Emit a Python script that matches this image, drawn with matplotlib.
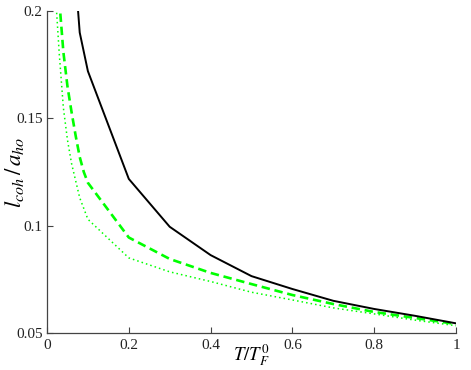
import matplotlib
matplotlib.use("Agg")
import matplotlib.pyplot as plt

plt.rcParams['font.family'] = ['Liberation Serif', 'DejaVu Serif']
plt.rcParams['mathtext.fontset'] = 'stix'

# solid black curve
t_solid = [0.07, 0.08, 0.1, 0.2, 0.3, 0.4, 0.5, 0.6, 0.7, 0.8, 0.9, 1.0]
l_solid = [0.215, 0.19, 0.172, 0.1218, 0.0995, 0.0863, 0.0765, 0.0705, 0.065, 0.0612, 0.058, 0.0545]

# dashed green curve
t_dash = [0.03, 0.04, 0.05, 0.06, 0.07, 0.08, 0.09, 0.1, 0.2, 0.3, 0.4, 0.5, 0.6, 0.7, 0.8, 0.9, 1.0]
l_dash = [0.205, 0.181, 0.165, 0.153, 0.142, 0.132, 0.125, 0.12, 0.0945, 0.0845, 0.078, 0.0728, 0.0677, 0.0635, 0.0598, 0.057, 0.0542]

# dotted green curve
t_dot = [0.02, 0.03, 0.04, 0.05, 0.06, 0.07, 0.08, 0.09, 0.1, 0.2, 0.3, 0.4, 0.5, 0.6, 0.7, 0.8, 0.9, 1.0]
l_dot = [0.21, 0.18, 0.155, 0.14, 0.129, 0.121, 0.113, 0.108, 0.103, 0.085, 0.0785, 0.074, 0.069, 0.0654, 0.0617, 0.0589, 0.056, 0.0534]

xticks = [0, 0.2, 0.4, 0.6, 0.8, 1]
xtick_labels = ["0", "0.2", "0.4", "0.6", "0.8", "1"]
yticks = [0.05, 0.1, 0.15, 0.2]
ytick_labels = ["0.05", "0.1", "0.15", "0.2"]

fig = plt.figure(figsize=(4.71, 3.70), dpi=100)
ax = fig.add_axes([47/471, 0.1, 409/471, 0.87])

ax.plot(t_dot, l_dot, color=(0, 1, 0), lw=1.1, linestyle=(0, (1, 2)))
ax.plot(t_dash, l_dash, color=(0, 1, 0), lw=1.9, linestyle=(0, (3.2, 1.8)))
ax.plot(t_solid, l_solid, color="black", lw=1.4)

ax.set_xlim(0, 1)
ax.set_ylim(0.05, 0.2)
ax.set_xticks(xticks)
ax.set_xticklabels(xtick_labels)
ax.set_yticks(yticks)
ax.set_yticklabels(ytick_labels)
ax.tick_params(direction="in", length=4, labelsize=11, color="#444444", labelcolor="#222222")
ax.tick_params(axis="x", pad=4)
ax.tick_params(axis="y", pad=3)
for s in ["top", "right"]:
    ax.spines[s].set_visible(False)
for s in ["left", "bottom"]:
    ax.spines[s].set_color("#444444")
    ax.spines[s].set_linewidth(0.9)

ax.set_xlabel(r"$T/T_F^0$", fontsize=13.5)
ax.set_ylabel(r"$l_{coh}\,/\,a_{ho}$", fontsize=16.5)
ax.xaxis.set_label_coords(0.5, -0.03)
ax.yaxis.set_label_coords(-0.052, 0.5)

fig.savefig("out.png", dpi=100)
